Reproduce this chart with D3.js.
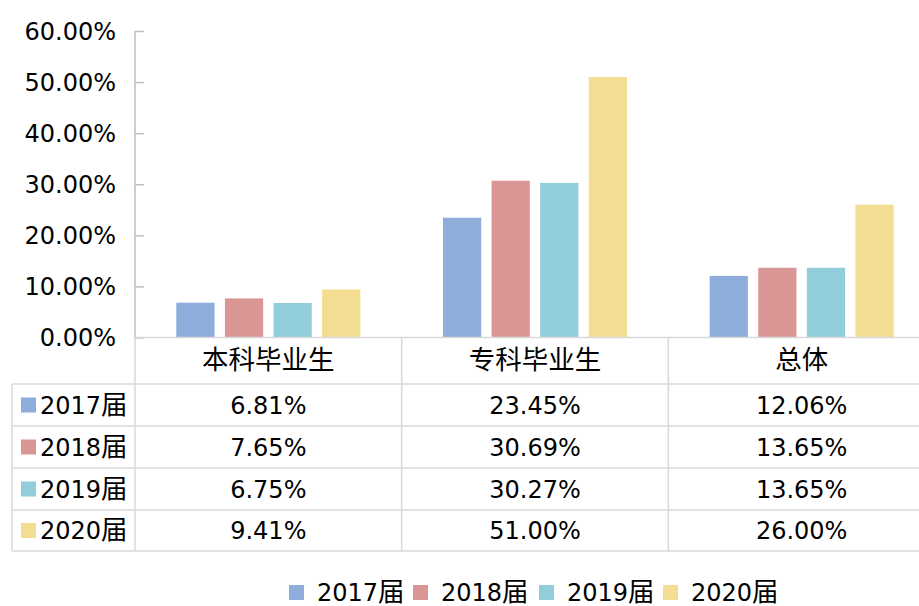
<!DOCTYPE html>
<html><head><meta charset="utf-8">
<script src="https://cdn.jsdelivr.net/npm/d3@7"></script>
<style>body{margin:0;background:#fff;} svg{display:block;} text{font-family:"DejaVu Sans","Noto Sans CJK SC",sans-serif;fill:#000;} .cjk{font-family:"Noto Sans CJK SC",sans-serif;}</style>
</head><body><svg id="c" width="919" height="606"></svg>
<script>
const categories = ["本科毕业生", "专科毕业生", "总体"];
const series = ["2017届", "2018届", "2019届", "2020届"];
const values2017 = [0.0681, 0.2345, 0.1206];
const values2018 = [0.0765, 0.3069, 0.1365];
const values2019 = [0.0675, 0.3027, 0.1365];
const values2020 = [0.0941, 0.5100, 0.2600];
const tableLabels2017 = ["6.81%", "23.45%", "12.06%"];
const tableLabels2018 = ["7.65%", "30.69%", "13.65%"];
const tableLabels2019 = ["6.75%", "30.27%", "13.65%"];
const tableLabels2020 = ["9.41%", "51.00%", "26.00%"];
const yTicks = [0, 0.1, 0.2, 0.3, 0.4, 0.5, 0.6];
const colors = ["#8EADDB", "#D99694", "#92CDDC", "#F3DD93"];

const allValues = [values2017, values2018, values2019, values2020];
const allLabels = [tableLabels2017, tableLabels2018, tableLabels2019, tableLabels2020];

const svg = d3.select("#c");
const pLeft = 135, pRight = 935, pTop = 31, pBase = 337.5;
const x = d3.scaleBand().domain(categories).range([pLeft, pRight]);
const xi = d3.scaleBand().domain(series).range([0, x.bandwidth()]).paddingInner(0.213).paddingOuter(0.85);
const y = d3.scaleLinear().domain([0, 0.6]).range([pBase, pTop]);
const grid = "#d9d9d9";

// mixed Latin + CJK label: CJK chars slightly larger
function seriesText(sel, s) {
  const m = s.match(/^([0-9]+)(.*)$/);
  sel.append("tspan").text(m[1]);
  sel.append("tspan").attr("class", "cjk").attr("font-size", 26.5).text(m[2]);
}

// bars
series.forEach((s, si) => {
  svg.append("g").selectAll("rect").data(categories).join("rect")
    .attr("x", c => x(c) + xi(s))
    .attr("width", xi.bandwidth())
    .attr("y", (c, ci) => y(allValues[si][ci]))
    .attr("height", (c, ci) => pBase - y(allValues[si][ci]))
    .attr("fill", colors[si]);
});

// y axis
const yAxis = d3.axisRight(y).tickValues(yTicks).tickSize(9).tickFormat("");
const ga = svg.append("g").attr("transform", `translate(${pLeft},0)`).call(yAxis);
ga.selectAll("path,line").attr("stroke", "#bfbfbf").attr("stroke-width", 1.5);
ga.select(".domain").attr("d", `M0,${pTop}V${pBase}`);
svg.append("g").selectAll("text").data(yTicks).join("text")
  .attr("x", 116).attr("y", d => y(d)).attr("dy", "0.36em")
  .attr("text-anchor", "end").attr("font-size", 24)
  .text(d => d3.format(".2%")(d));

// data table
const rowY = [337.5, 384, 426, 468, 510, 551];
const tbl = svg.append("g").attr("stroke", grid).attr("stroke-width", 1.5);
tbl.append("line").attr("x1", pLeft).attr("x2", 919).attr("y1", rowY[0]).attr("y2", rowY[0]);
rowY.slice(1).forEach(ry => tbl.append("line").attr("x1", 12).attr("x2", 919).attr("y1", ry).attr("y2", ry));
tbl.append("line").attr("x1", 12).attr("x2", 12).attr("y1", rowY[1]).attr("y2", rowY[5]);
categories.forEach(c => tbl.append("line").attr("x1", x(c)).attr("x2", x(c)).attr("y1", rowY[0]).attr("y2", rowY[5]));

svg.append("g").selectAll("text").data(categories).join("text")
  .attr("class", "cjk")
  .attr("x", c => x(c) + x.bandwidth() / 2).attr("y", (rowY[0] + rowY[1]) / 2 - 1).attr("dy", "0.36em")
  .attr("text-anchor", "middle").attr("font-size", 26.5).text(c => c);

series.forEach((s, si) => {
  const cy = (rowY[si + 1] + rowY[si + 2]) / 2;
  svg.append("rect").attr("x", 21).attr("y", cy - 7.5).attr("width", 15).attr("height", 15).attr("fill", colors[si]);
  const t = svg.append("text").attr("x", 40).attr("y", cy).attr("dy", "0.36em").attr("font-size", 24);
  seriesText(t, s);
  svg.append("g").selectAll("text").data(categories).join("text")
    .attr("x", c => x(c) + x.bandwidth() / 2).attr("y", cy).attr("dy", "0.36em")
    .attr("text-anchor", "middle").attr("font-size", 24)
    .text((c, ci) => allLabels[si][ci]);
});

// legend
const legendX = [289, 413, 539, 663];
const lg = svg.append("g");
series.forEach((s, si) => {
  lg.append("rect").attr("x", legendX[si]).attr("y", 585).attr("width", 15).attr("height", 15).attr("fill", colors[si]);
  const t = lg.append("text").attr("x", legendX[si] + 28).attr("y", 592).attr("dy", "0.36em").attr("font-size", 24);
  seriesText(t, s);
});
</script></body></html>
